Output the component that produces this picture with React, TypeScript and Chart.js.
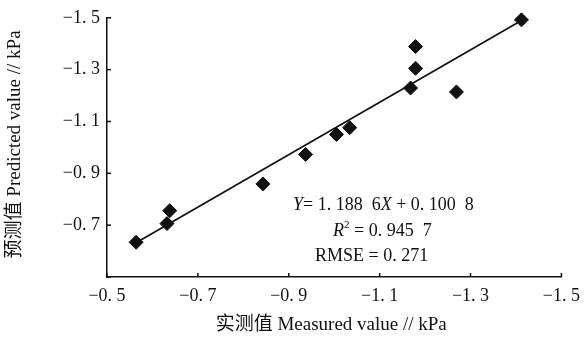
import React, { useEffect, useRef } from "react";
import { Chart, registerables } from "chart.js";

Chart.register(...registerables);

const measured = [-0.564, -0.632, -0.638, -0.843, -0.937, -1.005, -1.034, -1.168, -1.179, -1.179, -1.269, -1.412];
const predicted = [-0.634, -0.706, -0.756, -0.859, -0.973, -1.05, -1.076, -1.229, -1.305, -1.389, -1.214, -1.492];
const fitX = [-0.564, -1.412];
const fitY = [-0.632, -1.49];
const xTickValues = [-0.5, -0.7, -0.9, -1.1, -1.3, -1.5];
const yTickValues = [-0.5, -0.7, -0.9, -1.1, -1.3, -1.5];
const xTitle = "实测值 Measured value // kPa";
const yTitle = "预测值 Predicted value // kPa";
const eqLines = [
  [{ t: "Y", i: true }, { t: "= 1. 188  6" }, { t: "X", i: true }, { t: " + 0. 100  8" }],
  [{ t: "R", i: true }, { t: "2", sup: true }, { t: " = 0. 945  7" }],
  [{ t: "RMSE = 0. 271" }],
];

const FONT = '"Liberation Serif", "Noto Sans CJK SC", serif';
const INK = "#111";

const fmt = (v: number) => "\u2212" + Math.abs(v).toFixed(1).replace(".", ". ");

const overlay = {
  id: "overlay",
  afterDraw(chart: any) {
    const { ctx, chartArea, scales } = chart;
    const xs = scales.x;
    const ys = scales.y;
    ctx.save();
    ctx.strokeStyle = INK;
    ctx.lineWidth = 1.5;
    xTickValues.forEach((v) => {
      const px = xs.getPixelForValue(v);
      ctx.beginPath();
      ctx.moveTo(px, chartArea.bottom);
      ctx.lineTo(px, chartArea.bottom - 4);
      ctx.stroke();
    });
    yTickValues.forEach((v) => {
      const py = ys.getPixelForValue(v);
      ctx.beginPath();
      ctx.moveTo(chartArea.left, py);
      ctx.lineTo(chartArea.left + 4, py);
      ctx.stroke();
    });
    ctx.fillStyle = INK;
    ctx.font = "19px " + FONT;
    ctx.textAlign = "center";
    ctx.textBaseline = "middle";
    ctx.fillText(xTitle, (chartArea.left + chartArea.right) / 2 - 3, 325);
    ctx.save();
    ctx.translate(15, (chartArea.top + chartArea.bottom) / 2 - 3);
    ctx.rotate(-Math.PI / 2);
    ctx.fillText(yTitle, 0, 0);
    ctx.restore();
    const starts = [293, 333, 315];
    const ys0 = [205, 231, 256];
    ctx.textAlign = "left";
    ctx.textBaseline = "middle";
    eqLines.forEach((segs, li) => {
      let x = starts[li];
      segs.forEach((s: any) => {
        const size = s.sup ? 11 : 18;
        ctx.font = (s.i ? "italic " : "") + size + "px " + FONT;
        ctx.fillText(s.t, x, ys0[li] - (s.sup ? 6 : 0));
        x += ctx.measureText(s.t).width;
      });
    });
    ctx.restore();
  },
};

export default function App() {
  const ref = useRef<HTMLCanvasElement>(null);
  useEffect(() => {
    document.body.style.margin = "0";
    const chart = new Chart(ref.current as HTMLCanvasElement, {
      type: "scatter",
      data: {
        datasets: [
          {
            type: "line",
            data: fitX.map((x, i) => ({ x, y: fitY[i] })),
            borderColor: INK,
            borderWidth: 1.7,
            pointRadius: 0,
            showLine: true,
            clip: false,
          } as any,
          {
            data: measured.map((x, i) => ({ x, y: predicted[i] })),
            pointStyle: "rectRot",
            pointRadius: 7,
            backgroundColor: INK,
            borderColor: INK,
            borderWidth: 1,
            clip: false,
          } as any,
        ],
      },
      options: {
        responsive: false,
        animation: false,
        layout: { padding: { left: 0, right: 26, top: 15, bottom: 0 } },
        plugins: { legend: { display: false }, tooltip: { enabled: false } },
        scales: {
          x: {
            type: "linear",
            reverse: true,
            min: -1.5,
            max: -0.5,
            afterBuildTicks: (axis: any) => {
              axis.ticks = xTickValues.map((v) => ({ value: v }));
            },
            afterFit: (axis: any) => {
              axis.height = 60;
            },
            grid: { display: false, drawTicks: false },
            border: { display: true, color: INK, width: 1.5 },
            ticks: {
              padding: 8,
              color: INK,
              font: { family: FONT, size: 18 },
              callback: (v: any) => fmt(Number(v)),
              maxRotation: 0,
              autoSkip: false,
            },
          },
          y: {
            type: "linear",
            reverse: true,
            min: -1.5,
            max: -0.5,
            afterBuildTicks: (axis: any) => {
              axis.ticks = yTickValues.map((v) => ({ value: v }));
            },
            afterFit: (axis: any) => {
              axis.width = 107;
            },
            grid: { display: false, drawTicks: false },
            border: { display: true, color: INK, width: 1.5 },
            ticks: {
              padding: 7,
              color: INK,
              font: { family: FONT, size: 18 },
              callback: (v: any) => (Number(v) === -0.5 ? "" : fmt(Number(v))),
              autoSkip: false,
            },
          },
        },
      },
      plugins: [overlay],
    });
    return () => chart.destroy();
  }, []);
  return (
    <div style={{ position: "absolute", left: 0, top: 0, width: 588, height: 337, background: "#fff" }}>
      <canvas ref={ref} width={588} height={337} />
    </div>
  );
}
